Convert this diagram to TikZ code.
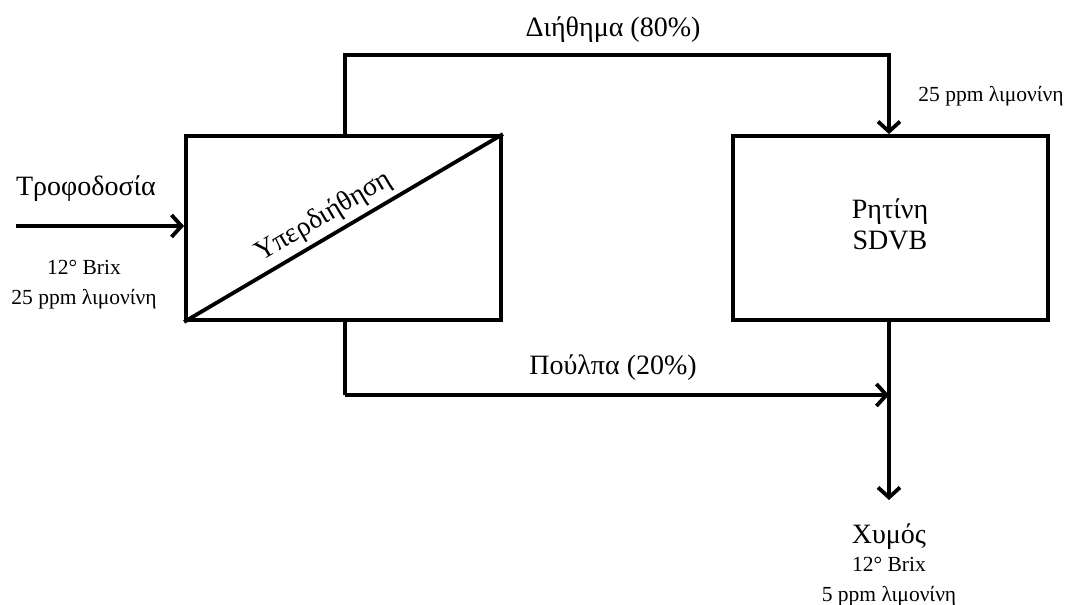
\documentclass[tikz,border=0pt]{standalone}
\usepackage{fontspec}
\setmainfont{Liberation Serif}
\usetikzlibrary{arrows.meta}
\tikzset{
  line/.style={line width=3.8pt},
  arr/.style={line width=3.8pt,-{Straight Barb[length=10pt,width=22pt,line width=3.8pt]}},
  unit/.style={draw,line width=3.8pt,minimum width=315pt,minimum height=184pt,inner sep=0pt},
  big/.style={font=\fontsize{28}{30}\selectfont,inner sep=0pt},
  small/.style={font=\fontsize{21.5}{30}\selectfont,inner sep=0pt,align=center}
}
\begin{document}
\begin{tikzpicture}[x=1pt,y=-1pt]
\useasboundingbox (0,0) rectangle (1069,605);
\node[unit] (uf) at (343.5,228) {};
\node[unit] (res) at (890.5,228) {};
\draw[line] (uf.south west) -- node[big,sloped,above=5pt,pos=0.47] (uflab) {Υπερδιήθηση} (uf.north east);
\node[big] (res1) at (890,212) {Ρητίνη};
\node[big] (res2) at (890,240) {SDVB};
% feed
\coordinate (feedstart) at (16,226);
\draw[arr] (feedstart) -- (feedstart -| uf.west);
\node[big] (feed) at (86,189) {Τροφοδοσία};
\node[small] (feed2) at (84,285) {12° Brix\\25 ppm λιμονίνη};
% permeate
\coordinate (p1) at (345,55);
\coordinate (p2) at (889,55);
\draw[arr] (p1 |- uf.north) -- (p1) -- (p2) -- (p2 |- res.north);
\node[big] (perm) at (613,30) {Διήθημα (80\%)};
\node[small] (perm2) at (991,96) {25 ppm λιμονίνη};
% pulp
\coordinate (q1) at (345,395);
\coordinate (q2) at (889,395);
\draw[line] (q1 |- uf.south) -- (q1);
\draw[arr] (q1) -- (q2);
\node[big] (pulp) at (613,368) {Πούλπα (20\%)};
% juice
\coordinate (jend) at (889,500);
\draw[arr] (res.south -| jend) -- (jend);
\node[big] (juice) at (889,537) {Χυμός};
\node[small] (juice2) at (889,582) {12° Brix\\5 ppm λιμονίνη};
\end{tikzpicture}
\end{document}
